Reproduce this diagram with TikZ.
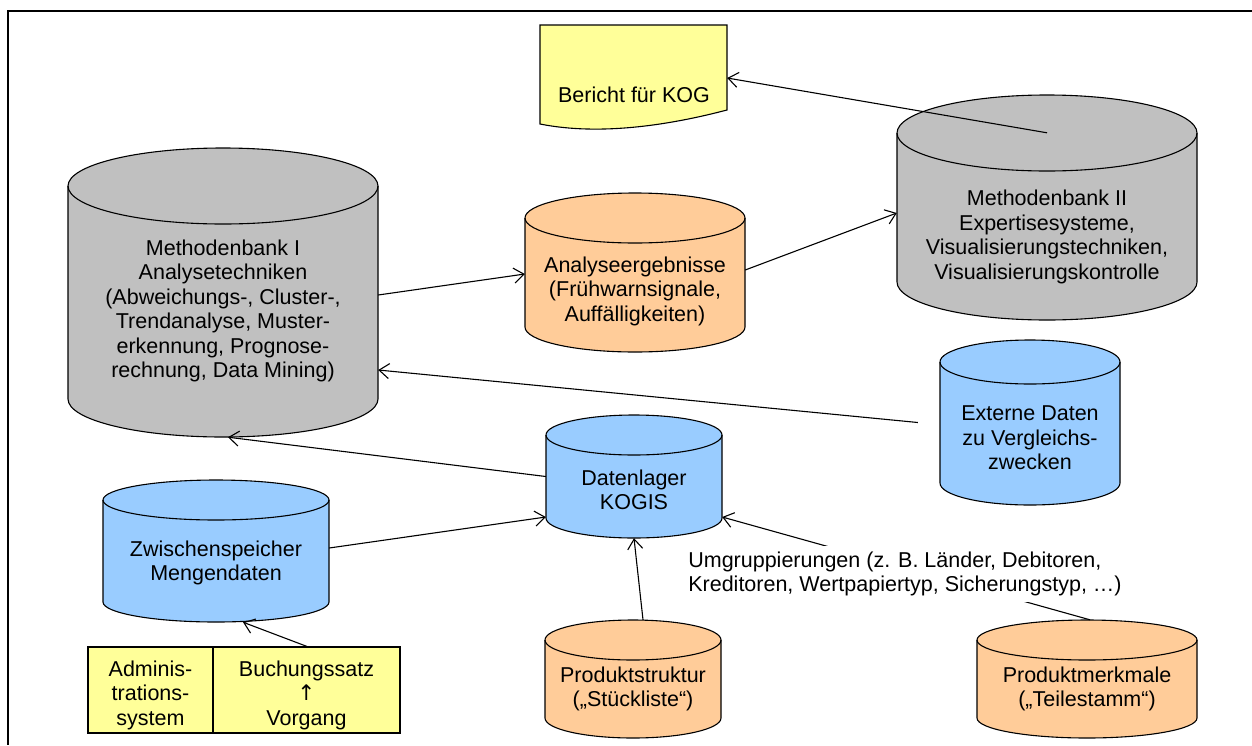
\documentclass[tikz,border=0pt]{standalone}
\usepackage{fontspec}
\setmainfont{Liberation Sans}
\newfontfamily\arrowfont{DejaVu Sans}
\usetikzlibrary{arrows.meta,calc}
\definecolor{cylgray}{HTML}{C0C0C0}
\definecolor{cylorange}{HTML}{FFCC99}
\definecolor{cylblue}{HTML}{99CCFF}
\definecolor{noteyellow}{HTML}{FFFF99}

\tikzset{
  cylline/.style={draw=black, line width=1.1pt},
  txt/.style={align=center, inner sep=0pt, font=\fontsize{21.5}{24.5}\selectfont},
  conn/.style={draw=black, line width=1.1pt, -{Straight Barb[length=10pt,width=15pt,line width=1.1pt]}},
  notebox/.style={draw=black, line width=1.1pt, fill=noteyellow, inner sep=0pt}
}

% cylinder: name, centre x, top y, bottom y, x radius, y radius, fill colour
\newcommand\drawcyl[7]{%
  \path[fill=#7] (#2-#5,#3+#6) -- (#2-#5,#4-#6)
    .. controls (#2-#5,#4-0.4477*#6) and (#2-0.5523*#5,#4) .. (#2,#4)
    .. controls (#2+0.5523*#5,#4) and (#2+#5,#4-0.4477*#6) .. (#2+#5,#4-#6)
    -- (#2+#5,#3+#6)
    .. controls (#2+#5,#3+0.4477*#6) and (#2+0.5523*#5,#3) .. (#2,#3)
    .. controls (#2-0.5523*#5,#3) and (#2-#5,#3+0.4477*#6) .. (#2-#5,#3+#6) -- cycle;
  \draw[cylline] (#2-#5,#3+#6) -- (#2-#5,#4-#6)
    .. controls (#2-#5,#4-0.4477*#6) and (#2-0.5523*#5,#4) .. (#2,#4)
    .. controls (#2+0.5523*#5,#4) and (#2+#5,#4-0.4477*#6) .. (#2+#5,#4-#6)
    -- (#2+#5,#3+#6);
  \draw[cylline] (#2,#3+#6) ellipse[x radius=#5, y radius=#6];
  \node[inner sep=0pt, minimum width=2*#5pt, minimum height=#4pt-#3pt] (#1) at (#2,{(#3+#4)/2}) {};
}

\begin{document}
\begin{tikzpicture}[x=1pt, y=-1pt]
\useasboundingbox (0,0) rectangle (1252,745);
\fill[white] (0,0) rectangle (1252,745);

% frame
\draw[line width=2.6pt] (1252,11) -- (8,11) -- (8,745);

% report sheet
\path[fill=noteyellow, draw=black, line width=1.1pt] (540,25) -- (727,25) -- (727,110)
  .. controls (670,125) and (600,136) .. (540,124) -- cycle;
\node[inner sep=0pt, minimum width=187pt, minimum height=101pt] (doc) at (633.5,75.5) {};
\node[txt] (doctext) at (634,95) {Bericht für KOG};

% databases
\drawcyl{mb1}{223}{148}{437}{155}{38}{cylgray}
\drawcyl{ae}{635}{193}{352}{110}{25}{cylorange}
\drawcyl{mb2}{1047}{95}{320}{150}{38}{cylgray}
\drawcyl{ext}{1030}{340}{505}{90}{22}{cylblue}
\drawcyl{dl}{634}{415}{538}{88}{20}{cylblue}
\drawcyl{zw}{216}{480}{622}{113}{20}{cylblue}
\drawcyl{ps}{633}{620}{738}{88}{20}{cylorange}
\drawcyl{pm}{1087}{620}{738}{110}{20}{cylorange}

\node[txt] (mb1text) at (223,311) {Methodenbank I\\Analysetechniken\\(Abweichungs-, Cluster-,\\Trendanalyse, Muster-\\erkennung, Prognose-\\rechnung, Data Mining)};
\node[txt] (aetext) at (635,291) {Analyseergebnisse\\(Frühwarnsignale,\\Auffälligkeiten)};
\node[txt] (mb2text) at (1047,237) {Methodenbank II\\Expertisesysteme,\\Visualisierungstechniken,\\Visualisierungskontrolle};
\node[txt] (exttext) at (1030,438) {Externe Daten\\zu Vergleichs-\\zwecken};
\node[txt] (dltext) at (634,490) {Datenlager\\KOGIS};
\node[txt] (zwtext) at (216,563) {Zwischenspeicher\\Mengendaten};
\node[txt] (pstext) at (633,689) {Produktstruktur\\(„Stückliste“)};
\node[txt] (pmtext) at (1087,689) {Produktmerkmale\\(„Teilestamm“)};

% source systems
\node[notebox, minimum width=125pt, minimum height=86pt] (admin) at (150.5,690) {};
\node[notebox, minimum width=187pt, minimum height=86pt] (buch) at (306.5,690) {};
\node[txt] (admintext) at (150.5,695) {Adminis-\\trations-\\system};
\node[txt] (buchtext) at (306.5,695) {Buchungssatz\\{\arrowfont ↑}\\Vorgang};

% data flows
\draw[conn] ([yshift=-2.5pt]mb1.east) -- ([yshift=-1.5pt]ae.west);
\draw[conn] ([yshift=2.5pt]ae.east) -- ([yshift=-5.5pt]mb2.west);
\draw[conn] ([yshift=-38pt]mb2.north) -- ([yshift=-2.5pt]doc.east);
\coordinate (extout) at ([xshift=-22pt]ext.west);
\draw[conn] (extout) -- ([yshift=-77.5pt]mb1.east);
\draw[conn] (dl.west) -- ([xshift=5pt]mb1.south);
\draw[conn] ([yshift=3pt]zw.east) -- ([yshift=-40.5pt]dl.west);
\draw[conn] ([xshift=10pt]ps.north) -- (dl.south);
\draw[conn] ([xshift=3pt]pm.north) -- ([yshift=-40.5pt]dl.east);
\draw[conn] ([xshift=0.5pt]buch.north) -- ([xshift=27pt]zw.south);

\node[txt, fill=white, inner sep=6pt, align=left] (regroup) at (905,574)
  {Umgruppierungen (z. B. Länder, Debitoren,\\Kreditoren, Wertpapiertyp, Sicherungstyp, …)};
\end{tikzpicture}
\end{document}
